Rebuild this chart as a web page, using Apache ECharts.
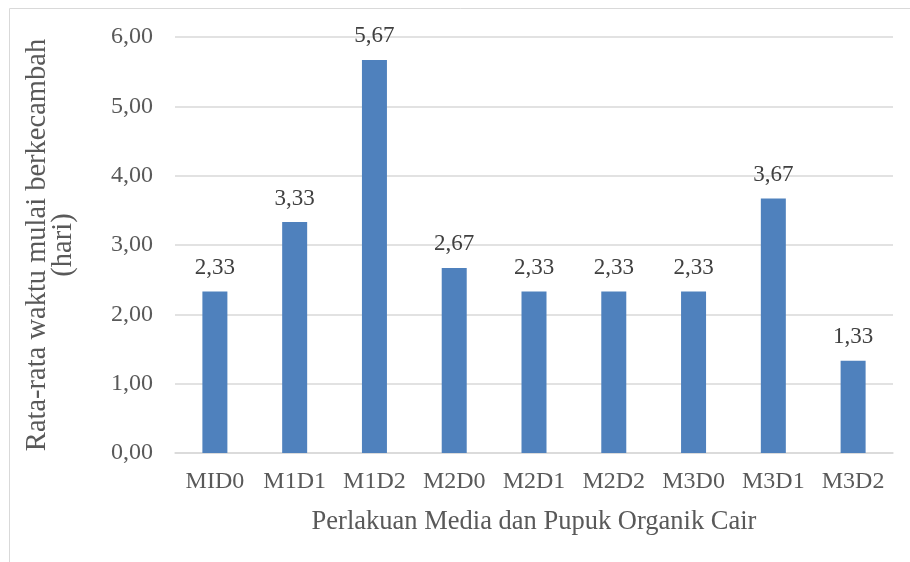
<!DOCTYPE html>
<html>
<head>
<meta charset="utf-8">
<script src="https://cdn.jsdelivr.net/npm/echarts@6/dist/echarts.min.js"></script>
<style>
  html, body { margin: 0; padding: 0; background: #fff; }
  #chart { width: 910px; height: 562px; }
</style>
</head>
<body>
<div id="chart"></div>
<script>
// data
const categories = ['MID0', 'M1D1', 'M1D2', 'M2D0', 'M2D1', 'M2D2', 'M3D0', 'M3D1', 'M3D2'];
const values = [2.33, 3.33, 5.67, 2.67, 2.33, 2.33, 2.33, 3.67, 1.33];
const yTicks = { min: 0, max: 6, interval: 1 };

const fontFamily = '"Liberation Serif", "Times New Roman", serif';
const textColor = '#595959';

function comma(v) {
    return Number(v).toFixed(2).replace('.', ',');
}

const chart = echarts.init(document.getElementById('chart'));
chart.setOption({
    animation: false,
    textStyle: { fontFamily: fontFamily },
    grid: { left: 175, right: 17, top: 37, bottom: 109 },
    graphic: [{
        type: 'rect',
        shape: { x: 9.5, y: 8.5, width: 1000, height: 1000 },
        style: { fill: 'none', stroke: '#d9d9d9', lineWidth: 1 },
        silent: true
    }],
    xAxis: {
        type: 'category',
        data: categories,
        name: 'Perlakuan Media dan Pupuk Organik Cair',
        nameLocation: 'middle',
        nameGap: 56,
        nameTextStyle: { fontSize: 26.5, color: textColor, fontFamily: fontFamily },
        axisLine: { lineStyle: { color: '#d9d9d9', width: 1.5 } },
        axisTick: { show: false },
        axisLabel: { interval: 0, fontSize: 24, color: textColor, margin: 17, fontFamily: fontFamily }
    },
    yAxis: {
        type: 'value',
        min: yTicks.min,
        max: yTicks.max,
        interval: yTicks.interval,
        name: 'Rata-rata waktu mulai berkecambah\n(hari)',
        nameLocation: 'middle',
        nameGap: 98,
        nameTextStyle: { fontSize: 28.5, color: textColor, lineHeight: 26, fontFamily: fontFamily },
        axisLine: { show: false },
        axisTick: { show: false },
        axisLabel: { fontSize: 24, color: textColor, margin: 22, formatter: comma, fontFamily: fontFamily },
        splitLine: { lineStyle: { color: '#d9d9d9', width: 1.5 } }
    },
    series: [{
        type: 'bar',
        data: values,
        barWidth: 25,
        itemStyle: { color: '#4f81bd' },
        label: {
            show: true,
            position: 'top',
            distance: 12,
            fontSize: 23,
            color: '#404040',
            fontFamily: fontFamily,
            formatter: p => comma(p.value)
        }
    }]
});
</script>
</body>
</html>
